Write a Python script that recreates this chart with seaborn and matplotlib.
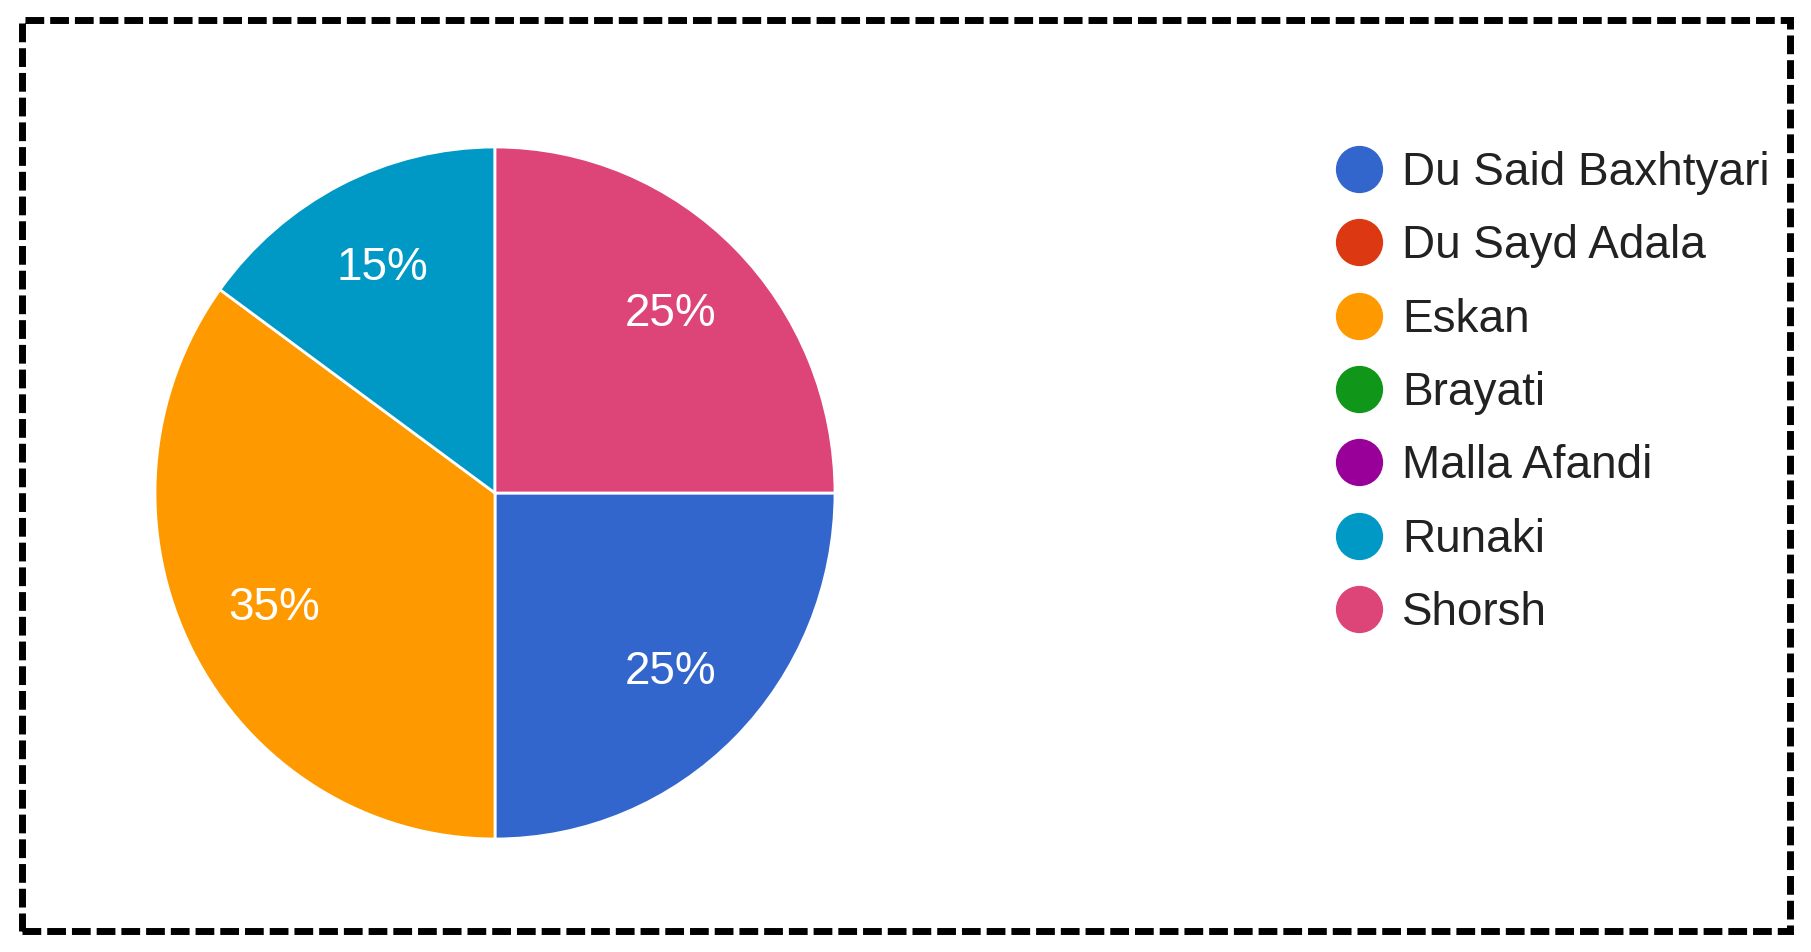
import matplotlib
matplotlib.use("Agg")
import matplotlib.pyplot as plt
import seaborn as sns
from matplotlib.lines import Line2D
from matplotlib.patches import Rectangle

# data
categories = ["Du Said Baxhtyari", "Du Sayd Adala", "Eskan", "Brayati",
              "Malla Afandi", "Runaki", "Shorsh"]
shares = [25, 0, 35, 0, 0, 15, 25]
colors = ["#3366cc", "#dc3912", "#ff9900", "#109618",
          "#990099", "#0099c6", "#dd4477"]

sns.set_theme(style="white")
plt.rcParams["font.family"] = ["Liberation Sans", "DejaVu Sans"]
palette = sns.color_palette(colors)

W, H, DPI = 1811, 952, 100
fig = plt.figure(figsize=(W / DPI, H / DPI), dpi=DPI)

# pie axes placed in pixels: centre (495, 493), the source is a little taller than wide
cx, cy, rx, ry = 495, 493, 340, 346
ax = fig.add_axes([(cx - rx) / W, (H - cy - ry) / H, 2 * rx / W, 2 * ry / H])

shown = [(v, c) for v, c in zip(shares, palette) if v > 0]
wedges, _, autotexts = ax.pie(
    [v for v, _ in shown],
    colors=[c for _, c in shown],
    startangle=0, counterclock=False,
    autopct="%1.0f%%", pctdistance=0.73,
    wedgeprops=dict(edgecolor="white", linewidth=2),
    textprops=dict(color="white", fontsize=33),
)
ax.set_xlim(-1, 1)
ax.set_ylim(-1, 1)
ax.set_aspect("auto")
ax.axis("off")

# legend lists every category, including empty ones
handles = [Line2D([], [], linestyle="none", marker="o", markersize=33,
                  markerfacecolor=c, markeredgecolor=c) for c in palette]
fig.legend(handles, categories, loc="upper left",
           bbox_to_anchor=(1336 / W, (H - 151) / H),
           frameon=False, fontsize=33, labelcolor="#222222",
           handlelength=1.0, handletextpad=0.45, labelspacing=0.64,
           borderpad=0, borderaxespad=0)

# dashed frame round the whole chart
fig.patches.append(Rectangle((21.5 / W, (H - 931) / H),
                             (1790 - 21.5) / W, (931 - 19.5) / H,
                             transform=fig.transFigure, fill=False,
                             edgecolor="black", linewidth=5,
                             linestyle=(0, (2.7, 0.86)), capstyle="butt"))

fig.savefig("out.png", dpi=DPI, facecolor="white")
